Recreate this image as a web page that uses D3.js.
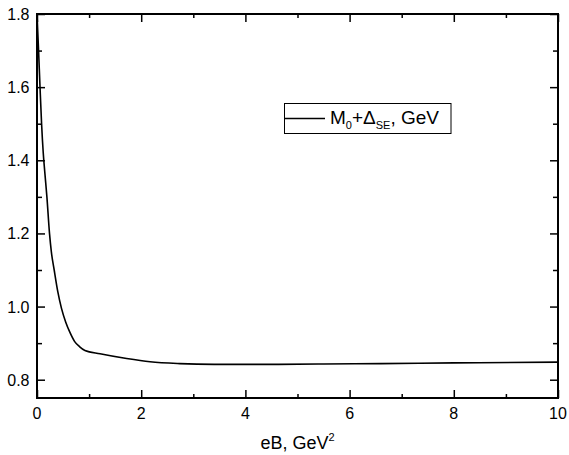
<!DOCTYPE html>
<html>
<head>
<meta charset="utf-8">
<script src="https://cdn.jsdelivr.net/npm/d3@7"></script>
<style>
	body { margin: 0; background: #fff; }
	svg { display: block; font-family: "Liberation Sans", Arial, sans-serif; }
</style>
</head>
<body>
<div id="chart"></div>
<script>
// values
var eB = [0, 0.03, 0.058, 0.088, 0.12, 0.148, 0.19, 0.24, 0.275, 0.33, 0.40, 0.47, 0.55, 0.63, 0.72, 0.82, 0.92, 1.21, 1.72, 2.17, 2.74, 3.4, 4.5, 5.5, 6.6, 8, 10];
var mass = [1.80, 1.70, 1.60, 1.50, 1.42, 1.37, 1.30, 1.20, 1.15, 1.10, 1.04, 0.995, 0.958, 0.93, 0.905, 0.89, 0.880, 0.871, 0.858, 0.849, 0.844, 0.842, 0.842, 0.843, 0.844, 0.846, 0.848];
var xTicks = [0, 2, 4, 6, 8, 10];
var xMinor = [1, 3, 5, 7, 9];
var yTicks = [0.8, 1.0, 1.2, 1.4, 1.6, 1.8];
var yMinor = [0.9, 1.1, 1.3, 1.5, 1.7];

var width = 569, height = 455;
var margin = {left: 37, right: 11, top: 14, bottom: 57};

var svg = d3.select("#chart").append("svg")
	.attr("width", width).attr("height", height);

var x = d3.scaleLinear().domain([0, 10]).range([margin.left, width - margin.right]);
var y = d3.scaleLinear().domain([0.75, 1.8]).range([height - margin.bottom, margin.top]);

var x0 = x.range()[0], x1 = x.range()[1];
var y0 = y.range()[0], y1 = y.range()[1];

// ticks, all pointing inward
function ticks(axis, pos, vals, size) {
	var g = svg.append("g").attr("transform", pos);
	g.call(axis.tickValues(vals).tickSize(size).tickFormat(""));
	g.select(".domain").remove();
	g.selectAll("line").attr("stroke", "#000").attr("stroke-width", 1.5);
}
ticks(d3.axisTop(x), "translate(0," + y0 + ")", xTicks, 8);
ticks(d3.axisTop(x), "translate(0," + y0 + ")", xMinor, 4);
ticks(d3.axisBottom(x), "translate(0," + y1 + ")", xTicks, 8);
ticks(d3.axisBottom(x), "translate(0," + y1 + ")", xMinor, 4);
ticks(d3.axisRight(y), "translate(" + x0 + ",0)", yTicks, 8);
ticks(d3.axisRight(y), "translate(" + x0 + ",0)", yMinor, 5);
ticks(d3.axisLeft(y), "translate(" + x1 + ",0)", yTicks, 8);
ticks(d3.axisLeft(y), "translate(" + x1 + ",0)", yMinor, 5);

// tick labels
svg.selectAll(".xl").data(xTicks).enter().append("text")
	.attr("x", function(d) { return x(d); })
	.attr("y", y0 + 21)
	.attr("text-anchor", "middle")
	.attr("font-size", "16px")
	.text(function(d) { return d; });
svg.selectAll(".yl").data(yTicks).enter().append("text")
	.attr("x", x0 - 7.5)
	.attr("y", function(d) { return y(d) + 6; })
	.attr("text-anchor", "end")
	.attr("font-size", "16px")
	.text(function(d) { return d.toFixed(1); });

// curve
var line = d3.line()
	.x(function(d, i) { return x(eB[i]); })
	.y(function(d) { return y(d); })
	.curve(d3.curveMonotoneX);
svg.append("path").datum(mass)
	.attr("d", line)
	.attr("fill", "none")
	.attr("stroke", "#000")
	.attr("stroke-width", 1.6);

// frame
svg.append("rect")
	.attr("x", x0).attr("y", y1)
	.attr("width", x1 - x0).attr("height", y0 - y1)
	.attr("fill", "none").attr("stroke", "#000").attr("stroke-width", 2);

// axis title
var xt = svg.append("text")
	.attr("x", (x0 + x1) / 2).attr("y", 449)
	.attr("text-anchor", "middle")
	.attr("font-size", "18px");
xt.append("tspan").text("eB, GeV");
xt.append("tspan").attr("font-size", "11px").attr("dy", -8).text("2");

// legend
var lg = svg.append("g");
lg.append("rect")
	.attr("x", 284.5).attr("y", 103.5).attr("width", 166.5).attr("height", 30)
	.attr("fill", "#fff").attr("stroke", "#000").attr("stroke-width", 1);
lg.append("line")
	.attr("x1", 285).attr("x2", 325).attr("y1", 118.5).attr("y2", 118.5)
	.attr("stroke", "#000").attr("stroke-width", 1.6);
var lt = lg.append("text").attr("x", 330).attr("y", 124).attr("font-size", "19px");
lt.append("tspan").text("M");
lt.append("tspan").attr("font-size", "11px").attr("dy", 5).text("0");
lt.append("tspan").attr("dy", -5).text("+\u0394");
lt.append("tspan").attr("font-size", "11px").attr("dy", 5).text("SE");
lt.append("tspan").attr("dy", -5).text(", GeV");
</script>
</body>
</html>
